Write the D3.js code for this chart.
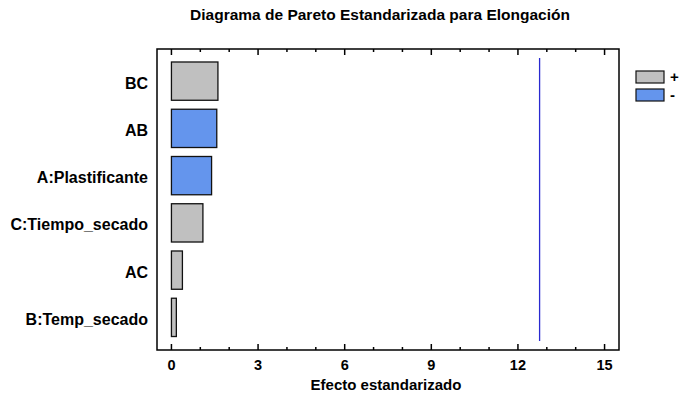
<!DOCTYPE html>
<html>
<head>
<meta charset="utf-8">
<script src="https://cdn.jsdelivr.net/npm/d3@7.9.0/dist/d3.min.js"></script>
<style>
  body { margin: 0; background: #fff; }
  svg text { font-family: "Liberation Sans", Arial, sans-serif; font-weight: bold; fill: #000; }
</style>
</head>
<body>
<svg id="chart" width="680" height="398"></svg>
<script>
// effects, top to bottom
const effects = ["BC", "AB", "A:Plastificante", "C:Tiempo_secado", "AC", "B:Temp_secado"];
const values = [1.61, 1.57, 1.39, 1.09, 0.38, 0.17];
const signs = ["+", "-", "-", "+", "+", "+"];
const xTicks = [0, 3, 6, 9, 12, 15];
const critical = 12.75;

const colors = { "+": "#c0c0c0", "-": "#6495ed" };

const svg = d3.select("#chart");
const plotL = 157, plotR = 619, plotT = 49, plotB = 350;

const x = d3.scaleLinear().domain([-0.5, 15.5]).range([plotL, plotR]);
const y = d3.scaleBand().domain(effects).range([57.5, 341]).paddingInner(0.19).paddingOuter(0.095);

svg.append("text")
  .attr("x", 380).attr("y", 20)
  .attr("text-anchor", "middle")
  .style("font-size", "15.5px")
  .text("Diagrama de Pareto Estandarizada para Elongación");

// frame
svg.append("rect")
  .attr("x", plotL).attr("y", plotT)
  .attr("width", plotR - plotL).attr("height", plotB - plotT)
  .attr("fill", "none").attr("stroke", "#000").attr("stroke-width", 1.5);

// ticks top and bottom, pointing inward
const minor = d3.range(0, 16);
[plotB, plotT].forEach(yy => {
  const dir = yy === plotB ? -1 : 1;
  svg.append("g").selectAll("line").data(minor).join("line")
    .attr("x1", d => x(d)).attr("x2", d => x(d))
    .attr("y1", yy).attr("y2", d => yy + dir * (d % 3 === 0 ? 6 : 3))
    .attr("stroke", "#000").attr("stroke-width", 1.5);
});

svg.append("g").selectAll("text").data(xTicks).join("text")
  .attr("x", d => x(d)).attr("y", 370)
  .attr("text-anchor", "middle")
  .style("font-size", "14.5px")
  .text(d => d);

svg.append("text")
  .attr("x", 386).attr("y", 390)
  .attr("text-anchor", "middle")
  .style("font-size", "15px")
  .text("Efecto estandarizado");

// bars
svg.append("g").selectAll("rect").data(effects).join("rect")
  .attr("x", x(0))
  .attr("y", d => y(d))
  .attr("width", (d, i) => x(values[i]) - x(0))
  .attr("height", y.bandwidth())
  .attr("fill", (d, i) => colors[signs[i]])
  .attr("stroke", "#111").attr("stroke-width", 1.3);

svg.append("g").selectAll("text").data(effects).join("text")
  .attr("x", 148)
  .attr("y", d => y(d) + y.bandwidth() / 2 + 7.5)
  .attr("text-anchor", "end")
  .style("font-size", "16px")
  .text(d => d);

// critical value line
svg.append("line")
  .attr("x1", x(critical)).attr("x2", x(critical))
  .attr("y1", 58).attr("y2", 341)
  .attr("stroke", "#2a2ad0").attr("stroke-width", 1.3);

// legend
const legend = svg.append("g").attr("transform", "translate(636,71)");
["+", "-"].forEach((s, i) => {
  legend.append("rect")
    .attr("x", 0).attr("y", i * 18)
    .attr("width", 28).attr("height", 12)
    .attr("fill", colors[s]).attr("stroke", "#111").attr("stroke-width", 1.2);
  legend.append("text")
    .attr("x", 34).attr("y", i * 18 + 11)
    .style("font-size", "15px")
    .text(s);
});
</script>
</body>
</html>
